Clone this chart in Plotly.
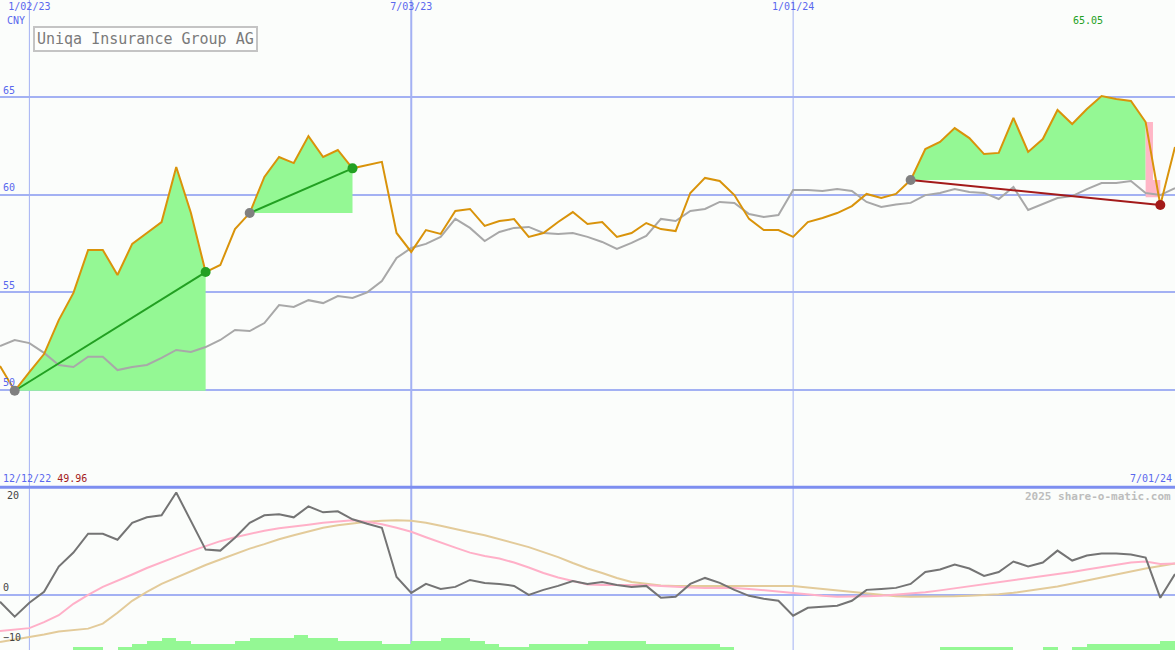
import pandas as pd
import plotly.graph_objects as go

# weekly closes, 2022-12-19 .. 2024-07-01
start_date = "2022-12-19"
price = [51.23, 49.96, 50.92, 51.84, 53.58, 54.97, 57.17, 57.17, 55.89, 57.48,
         58.04, 58.60, 61.42, 59.06, 56.04, 56.40, 58.24, 59.06, 60.91, 61.93,
         61.62, 63.00, 61.93, 62.29, 61.35, 61.50, 61.68, 58.04, 57.07, 58.19,
         57.99, 59.17, 59.27, 58.40, 58.65, 58.75, 57.84, 58.04, 58.60, 59.11,
         58.50, 58.60, 57.84, 58.04, 58.55, 58.24, 58.14, 60.09, 60.86, 60.70,
         59.98, 58.76, 58.19, 58.19, 57.84, 58.60, 58.81, 59.06, 59.42, 60.04,
         59.83, 60.04, 60.75, 62.34, 62.70, 63.41, 62.90, 62.08, 62.14, 63.93,
         62.19, 62.85, 64.34, 63.62, 64.39, 65.05, 64.90, 64.80, 63.72, 59.47,
         62.44]
avg = [52.25, 52.56, 52.40, 51.90, 51.28, 51.18, 51.70, 51.70, 51.02, 51.18,
       51.28, 51.64, 52.05, 51.95, 52.20, 52.56, 53.07, 53.02, 53.43, 54.35,
       54.25, 54.60, 54.45, 54.81, 54.71, 55.00, 55.58, 56.76, 57.27, 57.48,
       57.84, 58.76, 58.30, 57.63, 58.09, 58.30, 58.35, 58.04, 57.99, 58.04,
       57.84, 57.58, 57.22, 57.53, 57.89, 58.76, 58.65, 59.17, 59.27, 59.63,
       59.58, 59.01, 58.86, 58.96, 60.24, 60.24, 60.19, 60.29, 60.19, 59.63,
       59.37, 59.50, 59.58, 59.98, 60.09, 60.29, 60.14, 60.09, 59.78, 60.39,
       59.22, 59.52, 59.83, 59.93, 60.29, 60.60, 60.60, 60.70, 60.09, 59.98,
       60.34]

macd = [-1.4, -4.4, -1.6, 0.6, 5.7, 8.5, 12.3, 12.3, 11.1, 14.5,
        15.6, 16.0, 20.6, 14.7, 9.1, 8.9, 11.5, 14.5, 16.0, 16.2,
        15.6, 17.8, 16.6, 16.8, 15.2, 14.3, 13.5, 3.6, 0.4, 2.2,
        1.2, 1.6, 3.0, 2.4, 2.2, 1.8, 0.0, 1.0, 1.8, 2.8,
        2.2, 2.6, 2.0, 1.6, 1.8, -0.6, -0.4, 2.2, 3.4, 2.4,
        1.0, -0.2, -0.8, -1.2, -4.2, -2.6, -2.4, -2.2, -1.2, 1.0,
        1.2, 1.4, 2.2, 4.6, 5.1, 6.1, 5.3, 3.8, 4.6, 6.7,
        5.7, 6.5, 8.9, 6.9, 7.9, 8.3, 8.3, 8.1, 7.5, -0.6,
        4.2]
signal = [-7.3, -7.0, -6.7, -5.5, -4.1, -1.8, 0.0, 1.6, 2.8, 4.1,
          5.4, 6.6, 7.7, 8.8, 9.8, 10.8, 11.6, 12.3, 12.9, 13.4,
          13.7, 14.1, 14.5, 14.8, 15.0, 14.7, 14.2, 13.5, 12.7, 11.6,
          10.5, 9.5, 8.5, 7.8, 7.3, 6.5, 5.5, 4.4, 3.5, 2.8,
          2.1, 2.0, 2.0, 2.0, 2.0, 1.8, 1.6, 1.5, 1.4, 1.4,
          1.4, 1.2, 0.9, 0.7, 0.4, 0.1, -0.2, -0.4, -0.4, -0.3,
          -0.2, 0.0, 0.2, 0.5, 0.9, 1.3, 1.8, 2.2, 2.5, 2.9,
          3.3, 3.7, 4.1, 4.6, 5.1, 5.6, 6.1, 6.5, 6.7, 6.2,
          6.3]
slow = [-9.5, -9.0, -8.6, -8.0, -7.4, -7.1, -6.8, -5.8, -3.6, -1.2,
        0.6, 2.2, 3.5, 4.8, 6.0, 7.1, 8.2, 9.3, 10.2, 11.2,
        12.0, 12.8, 13.5, 14.0, 14.4, 14.7, 14.9, 15.0, 14.9, 14.5,
        13.9, 13.2, 12.6, 12.0, 11.2, 10.4, 9.6, 8.6, 7.6, 6.4,
        5.3, 4.4, 3.4, 2.6, 2.2, 1.9, 1.8, 1.8, 1.8, 1.8,
        1.8, 1.8, 1.8, 1.8, 1.8, 1.5, 1.2, 0.9, 0.6, 0.3,
        0.0, -0.3, -0.4, -0.4, -0.3, -0.3, -0.2, -0.1, 0.1, 0.4,
        0.8, 1.2, 1.7, 2.3, 2.9, 3.6, 4.2, 4.7, 5.3, 5.8,
        6.3]
volume = [0, 0, 0, 0, 0, 1, 1, 0, 1, 2,
          3, 4, 3, 2, 2, 2, 3, 4, 4, 4,
          5, 4, 4, 3, 3, 3, 2, 2, 3, 3,
          4, 4, 3, 2, 1, 1, 2, 2, 2, 2,
          3, 3, 3, 3, 2, 2, 2, 2, 2, 1,
          0, 0, 0, 0, 0, 0, 0, 0, 0, 0,
          0, 0, 0, 0, 1, 1, 1, 1, 1, 0,
          0, 1, 0, 1, 2, 2, 2, 2, 2, 3,
          3]

# (low index, high index, colour)
swings = [(1, 14, "#22a022"), (17, 24, "#22a022"), (62, 79, "#a31a1a")]

tick_dates = ["2023-01-02", "2023-07-03", "2024-01-01"]
tick_text = ["1/02/23", "7/03/23", "1/01/24"]
osc_ticks = [-10, 0, 20]

dates = pd.date_range(start_date, periods=len(price), freq="7D")

BLUE = "#5a68ee"
GRID = "#a3b1f3"
FILL = "#94f894"
MONO = "DejaVu Sans Mono"

fig = go.Figure()

# swing fills
for a, b, col in swings:
    base = price[a]
    last = b if col != "#a31a1a" else b - 1
    xs = list(dates[a:last + 1]) + [dates[last], dates[a]]
    ys = price[a:last + 1] + [base, base]
    fig.add_trace(go.Scatter(x=xs, y=ys, fill="toself", fillcolor=FILL, mode="none",
                             hoverinfo="skip"))
    if col == "#a31a1a":
        mid = dates[b - 1] + (dates[b] - dates[b - 1]) / 2
        fig.add_trace(go.Scatter(
            x=[dates[b - 1], mid, mid, dates[b], dates[b], dates[b - 1]],
            y=[price[b - 1], price[b - 1], base, base, price[b] + 0.4, price[b] + 0.4],
            fill="toself", fillcolor="#ffb6c6", mode="none", hoverinfo="skip"))

fig.add_trace(go.Scatter(x=dates, y=avg, mode="lines",
                         line=dict(color="#a8a8a8", width=2), hoverinfo="skip"))
fig.add_trace(go.Scatter(x=dates, y=price, mode="lines",
                         line=dict(color="#d9930a", width=2), hoverinfo="skip"))

for a, b, col in swings:
    fig.add_trace(go.Scatter(x=[dates[a], dates[b]], y=[price[a], price[b]], mode="lines",
                             line=dict(color=col, width=2), hoverinfo="skip"))
    fig.add_trace(go.Scatter(x=[dates[a]], y=[price[a]], mode="markers",
                             marker=dict(color="#808080", size=10), hoverinfo="skip"))
    fig.add_trace(go.Scatter(x=[dates[b]], y=[price[b]], mode="markers",
                             marker=dict(color=col, size=10), hoverinfo="skip"))

# lower panel
fig.add_trace(go.Bar(x=dates, y=volume, yaxis="y3", offset=0,
                     width=7 * 86400000, marker=dict(color=FILL, line=dict(width=0)),
                     hoverinfo="skip"))
fig.add_trace(go.Scatter(x=dates, y=slow, yaxis="y2", mode="lines",
                         line=dict(color="#e3cb9a", width=2), hoverinfo="skip"))
fig.add_trace(go.Scatter(x=dates, y=signal, yaxis="y2", mode="lines",
                         line=dict(color="#ffb0c8", width=2), hoverinfo="skip"))
fig.add_trace(go.Scatter(x=dates, y=macd, yaxis="y2", mode="lines",
                         line=dict(color="#747474", width=2), hoverinfo="skip"))

shapes = []
for d in tick_dates:
    shapes.append(dict(type="line", xref="x", yref="paper", x0=d, x1=d, y0=0, y1=1,
                       layer="below",
                       line=dict(color=GRID, width=2 if d == "2023-07-03" else 1)))
shapes.append(dict(type="line", xref="paper", yref="paper", x0=0, x1=1,
                   y0=0.2505, y1=0.2505, line=dict(color="#7d8ef0", width=3)))

hi_i = price.index(max(price))
annotations = [
    dict(text="CNY", xref="paper", yref="paper", x=0.004, y=1 - 20 / 650,
         xanchor="left", yanchor="middle", showarrow=False,
         font=dict(family=MONO, size=10, color=BLUE)),
    dict(text="Uniqa Insurance Group AG", xref="paper", yref="paper",
         x=33 / 1175, y=1 - 26 / 650, xanchor="left", yanchor="top", showarrow=False,
         bordercolor="#c4c4c4", borderwidth=2, borderpad=2, bgcolor="#fdfefd",
         font=dict(family=MONO, size=15, color="#7a7a7a")),
    dict(text=f"{max(price):.2f}", xref="x", yref="paper", x=dates[hi_i],
         y=1 - 20 / 650, xshift=-14, yanchor="middle", showarrow=False,
         font=dict(family=MONO, size=10, color="#22a022")),
    dict(text=f"<span style='color:{BLUE}'>12/12/22</span> "
              f"<span style='color:#a31a1a'>{min(price):.2f}</span>",
         xref="paper", yref="paper", x=0.001, y=1 - 478 / 650,
         xanchor="left", yanchor="middle", showarrow=False,
         font=dict(family=MONO, size=10)),
    dict(text="7/01/24", xref="paper", yref="paper", x=0.999, y=1 - 478 / 650,
         xanchor="right", yanchor="middle", showarrow=False,
         font=dict(family=MONO, size=10, color=BLUE)),
    dict(text="<b>2025 share-o-matic.com</b>", xref="paper", yref="paper", x=0.998,
         y=1 - 496 / 650, xanchor="right", yanchor="middle", showarrow=False,
         font=dict(family=MONO, size=11, color="#bdbdbd")),
    # top tick of the oscillator panel (plotly drops it as it touches the edge)
    dict(text=str(osc_ticks[-1]), xref="paper", yref="y2", x=0.004, y=osc_ticks[-1],
         xanchor="left", yanchor="middle", showarrow=False,
         font=dict(family=MONO, size=10, color="#444444")),
]

fig.update_layout(
    width=1175, height=650,
    margin=dict(l=0, r=0, t=0, b=0),
    paper_bgcolor="#fbfdfb", plot_bgcolor="#fbfdfb",
    showlegend=False,
    xaxis=dict(range=[dates[0], dates[-1]], side="top", anchor="y",
               tickvals=tick_dates, ticktext=tick_text, ticklabelposition="inside",
               ticks="", showgrid=False, zeroline=False, showline=False,
               tickfont=dict(family=MONO, size=10, color=BLUE)),
    yaxis=dict(domain=[0.254, 1], range=[45.14, 69.97], dtick=5,
               ticklabelposition="inside top", ticks="",
               showgrid=True, gridcolor=GRID, gridwidth=2, zeroline=False,
               tickfont=dict(family=MONO, size=10, color=BLUE)),
    yaxis2=dict(domain=[0, 0.25], range=[-11.1, 21.6], tickvals=osc_ticks[:-1],
                ticklabelposition="inside top", ticks="", showgrid=False,
                zeroline=True, zerolinecolor=GRID, zerolinewidth=2,
                tickfont=dict(family=MONO, size=10, color="#444444")),
    yaxis3=dict(overlaying="y2", range=[0, 54], visible=False),
    bargap=0,
    shapes=shapes,
    annotations=annotations,
)

fig.write_html("out.html", config={"displayModeBar": False},
               post_script="document.body.style.margin='0';"
                           "document.body.style.background='#fbfdfb';")
